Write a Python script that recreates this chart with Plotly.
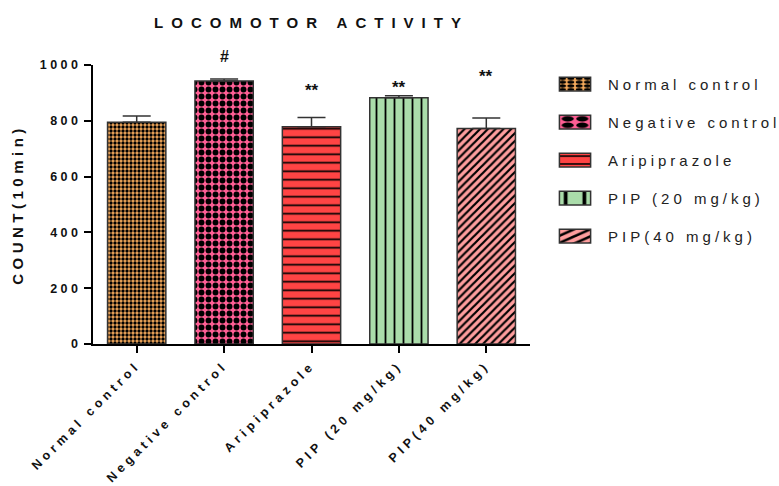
import plotly.graph_objects as go

categories = ["Normal control", "Negative control", "Aripiprazole", "PIP (20 mg/kg)", "PIP(40 mg/kg)"]
means = [795, 943, 779, 883, 772]
errors = [22, 7, 33, 7, 38]
signif = ["", "#", "**", "**", "**"]
signif_y = [None, 1029, 910, 921, 960]
y_ticks = [0, 200, 400, 600, 800, 1000]
Y_MAX = 1000

colors = ["#F7AB5C", "#FF5E94", "#FF4444", "#AADCAA", "#FF9E9E"]
shapes = [".", ".", "-", "|", "/"]
sizes = [4, 7, 8.5, 9, 5.5]
solid = [0.55, 0.55, 0.2, 0.2, 0.4]

FONT = "Arial, Liberation Sans, sans-serif"

fig = go.Figure()
for i, c in enumerate(categories):
    fig.add_trace(go.Bar(
        x=[c], y=[means[i]], name=c, legendgroup=c,
        width=0.667,
        marker=dict(color=colors[i], line=dict(color="#333333", width=1.5),
                    pattern=dict(shape=shapes[i], fgcolor="#000000", bgcolor=colors[i],
                                 size=sizes[i], solidity=solid[i], fillmode="replace")),
        error_y=dict(type="data", array=[errors[i]], arrayminus=[0], symmetric=False,
                     color="#333333", thickness=1.5, width=14),
    ))

for i, c in enumerate(categories):
    if signif[i]:
        fig.add_annotation(x=c, xref="x", y=signif_y[i] / Y_MAX, yref="paper",
                           text=signif[i], showarrow=False,
                           font=dict(family=FONT, size=17 if signif[i] == "**" else 16,
                                     color="#111", weight="bold"),
                           yanchor="middle")

fig.update_layout(
    width=779, height=486,
    margin=dict(l=93, r=249, t=65, b=142),
    paper_bgcolor="white", plot_bgcolor="white",
    barmode="overlay",
    title=dict(text="LOCOMOTOR ACTIVITY", x=(93 + 530) / 2 / 779, xanchor="center",
               y=1 - 23 / 486, yanchor="middle",
               font=dict(family=FONT, size=15, color="#111", weight="bold")),
    showlegend=True,
    legend=dict(x=1.0275, xanchor="left", y=0.99, yanchor="top",
                font=dict(family=FONT, size=15, color="#222"),
                tracegroupgap=15.5, itemwidth=56, bgcolor="rgba(0,0,0,0)"),
    xaxis=dict(range=[-0.5, 4.5], showline=True, linecolor="#000", linewidth=2,
               ticks="outside", ticklen=7, tickwidth=2, tickcolor="#000",
               tickangle=-45, showgrid=False, zeroline=False,
               tickfont=dict(family=FONT, size=12.5, color="#111", weight="bold")),
    yaxis=dict(range=[0, Y_MAX], tickvals=y_ticks, showline=True, linecolor="#000", linewidth=2,
               ticks="outside", ticklen=7, tickwidth=2, tickcolor="#000",
               showgrid=False, zeroline=False,
               tickfont=dict(family=FONT, size=12.5, color="#111", weight="bold"),
               title=dict(text="COUNT(10min)", standoff=26,
                          font=dict(family=FONT, size=15, color="#111", weight="bold"))),
)

css = (".gtitle{letter-spacing:8px}"
       ".xtick text{letter-spacing:4.2px}"
       ".ytick text{letter-spacing:3.5px}"
       ".ytitle{letter-spacing:4.5px}"
       ".legendtext{letter-spacing:4px}"
       ".legend .legendpoints path{transform:translate(33px,0px) scale(2.6,1.15);"
       "vector-effect:non-scaling-stroke}"
       ".legend .scrollbox,.legend{clip-path:none !important}")
post = ("var s=document.createElement('style');s.textContent='" + css + "';"
        "document.head.appendChild(s);")

fig.write_html("out.html", post_script=post)
